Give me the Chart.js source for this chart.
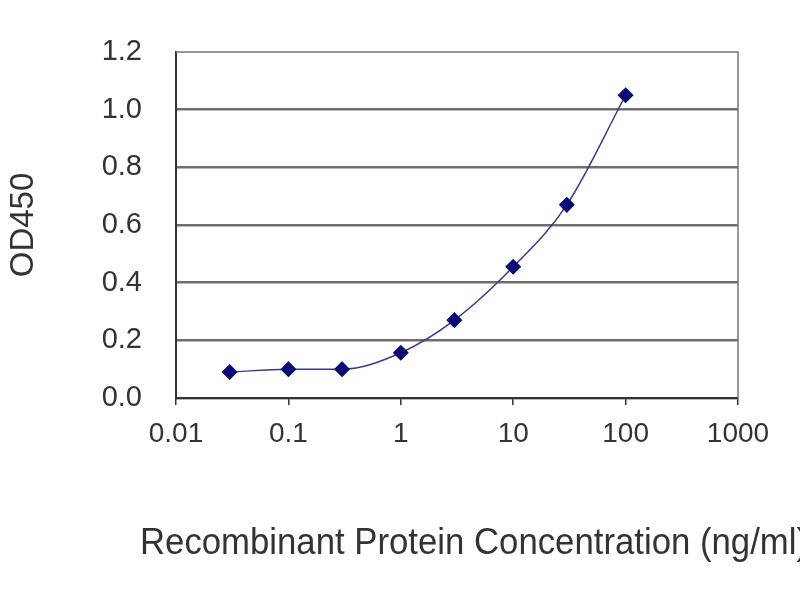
<!DOCTYPE html>
<html>
<head>
<meta charset="utf-8">
<script src="https://cdn.jsdelivr.net/npm/chart.js@4"></script>
<style>
  html, body { margin: 0; padding: 0; background: #fff; }
  #wrap { width: 800px; height: 600px; }
</style>
</head>
<body>
<div id="wrap"><canvas id="elisa"></canvas></div>
<script>
const concentrations = [0.03, 0.1, 0.3, 1, 3, 10, 30, 100]
const od450 = [0.09, 0.10, 0.10, 0.157, 0.27, 0.455, 0.67, 1.05]
const xTicks = [0.01, 0.1, 1, 10, 100, 1000]
const xTickLabels = ['0.01', '0.1', '1', '10', '100', '1000']
const yTickLabels = ['0.0', '0.2', '0.4', '0.6', '0.8', '1.0', '1.2']
const xTitle = 'Recombinant Protein Concentration (ng/ml)'

const fontFamily = "'Liberation Sans', Arial, sans-serif"

const plotFrame = {
    id: 'plotFrame',
    afterDraw(chart) {
        const { ctx, chartArea: { left, top, right, bottom } } = chart
        ctx.save()
        ctx.strokeStyle = '#777'
        ctx.lineWidth = 1.5
        ctx.beginPath()
        ctx.moveTo(left, top)
        ctx.lineTo(right, top)
        ctx.lineTo(right, bottom)
        ctx.stroke()

        // x axis title, drawn by hand so it can run past the plot width
        ctx.font = '36px ' + fontFamily
        ctx.fillStyle = '#333'
        ctx.textAlign = 'center'
        ctx.textBaseline = 'middle'
        ctx.fillText(xTitle, (left + right) / 2 + 17, bottom + 146, 668)
        ctx.restore()
    }
}

new Chart(document.getElementById('elisa'), {
    type: 'line',
    data: {
        datasets: [{
            data: concentrations.map((c, i) => ({ x: c, y: od450[i] })),
            borderColor: '#3a3a8c',
            borderWidth: 1.5,
            backgroundColor: '#0c0c78',
            pointBackgroundColor: '#0c0c78',
            pointBorderColor: '#0c0c78',
            pointStyle: 'rectRot',
            pointRadius: 7,
            tension: 0.4,
            cubicInterpolationMode: 'monotone',
            fill: false
        }]
    },
    plugins: [plotFrame],
    options: {
        responsive: true,
        maintainAspectRatio: false,
        animation: false,
        layout: { padding: { top: 52, right: 62, left: 0, bottom: 0 } },
        plugins: {
            legend: { display: false },
            tooltip: { enabled: false }
        },
        scales: {
            x: {
                type: 'logarithmic',
                min: 0.01,
                max: 1000,
                afterBuildTicks(scale) {
                    scale.ticks = xTicks.map(v => ({ value: v }))
                },
                afterFit(scale) {
                    scale.height = 202
                },
                ticks: {
                    autoSkip: false,
                    maxRotation: 0,
                    padding: 12,
                    color: '#333',
                    font: { family: fontFamily, size: 28 },
                    callback: (v, i) => xTickLabels[i]
                },
                grid: {
                    drawOnChartArea: false,
                    drawTicks: true,
                    tickLength: 7,
                    color: '#333',
                    lineWidth: 1.5
                },
                border: { color: '#333', width: 2 }
            },
            y: {
                min: 0,
                max: 1.2,
                afterBuildTicks(scale) {
                    scale.ticks = yTickLabels.map(t => ({ value: Number(t) }))
                },
                afterFit(scale) {
                    scale.width = 176
                },
                ticks: {
                    padding: 34,
                    color: '#333',
                    font: { family: fontFamily, size: 29 },
                    callback: (v, i) => yTickLabels[i]
                },
                grid: {
                    drawTicks: false,
                    color: ctx => ctx.index === yTickLabels.length - 1 ? 'rgba(0,0,0,0)' : '#6e6e6e',
                    lineWidth: 2.5
                },
                border: { color: '#333', width: 2 },
                title: {
                    display: true,
                    text: 'OD450',
                    color: '#333',
                    font: { family: fontFamily, size: 33 },
                    padding: { bottom: 48 }
                }
            }
        }
    }
})
</script>
</body>
</html>
